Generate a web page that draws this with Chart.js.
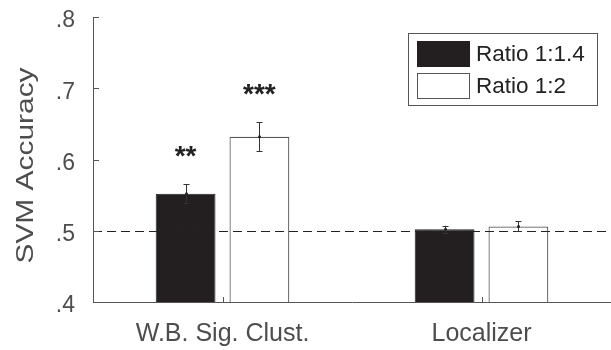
<!DOCTYPE html>
<html>
<head>
<meta charset="utf-8">
<script src="https://cdn.jsdelivr.net/npm/chart.js@4/dist/chart.umd.min.js"></script>
<style>
  html, body { margin: 0; padding: 0; background: #fff; }
  #chart { display: block; }
</style>
</head>
<body>
<canvas id="chart" width="611" height="350"></canvas>
<script>
// chart data
const categories = ['W.B. Sig. Clust.', 'Localizer'];
const seriesNames = ['Ratio 1:1.4', 'Ratio 1:2'];
const ratio14 = [0.552, 0.502];
const ratio14Err = [0.013, 0.005];
const ratio12 = [0.632, 0.506];
const ratio12Err = [0.020, 0.007];
const ratio14Stars = ['**', ''];
const ratio12Stars = ['***', ''];
const yTickValues = [0.4, 0.5, 0.6, 0.7, 0.8];
const yTickLabels = ['.4', '.5', '.6', '.7', '.8'];
const chanceLevel = 0.5;
const yTitle = 'SVM Accuracy';

const FONT = 'Arial, "Liberation Sans", Helvetica, sans-serif';
const AXIS_COLOR = '#555';
const TEXT_COLOR = '#4d4d4d';
const DARK = '#231f20';

const errors = [ratio14Err, ratio12Err];
const stars = [ratio14Stars, ratio12Stars];

// error bars, chance line, stars, inward ticks, legend, y title
const extras = {
    id: 'extras',
    afterDatasetsDraw(chart) {
        const ctx = chart.ctx;
        const area = chart.chartArea;
        const y = chart.scales.y;
        const x = chart.scales.x;

        // chance level dashed line
        const cy = Math.round(y.getPixelForValue(chanceLevel)) + 0.5;
        ctx.save();
        ctx.strokeStyle = '#222';
        ctx.lineWidth = 1;
        ctx.setLineDash([9, 5]);
        ctx.beginPath();
        ctx.moveTo(area.left, cy);
        ctx.lineTo(chart.width, cy);
        ctx.stroke();
        ctx.restore();

        // error bars + stars
        chart.data.datasets.forEach((ds, di) => {
            const meta = chart.getDatasetMeta(di);
            meta.data.forEach((bar, i) => {
                const v = ds.data[i];
                const e = errors[di][i];
                const bx = Math.round(bar.x) + 0.5;
                const top = y.getPixelForValue(v + e);
                const bot = y.getPixelForValue(v - e);
                ctx.save();
                ctx.strokeStyle = '#333';
                ctx.lineWidth = 1;
                ctx.beginPath();
                ctx.moveTo(bx, top);
                ctx.lineTo(bx, bot);
                ctx.moveTo(bx - 3, Math.round(top) + 0.5);
                ctx.lineTo(bx + 3, Math.round(top) + 0.5);
                ctx.moveTo(bx - 3, Math.round(bot) + 0.5);
                ctx.lineTo(bx + 3, Math.round(bot) + 0.5);
                ctx.stroke();
                ctx.fillStyle = '#222';
                ctx.beginPath();
                ctx.arc(bx, y.getPixelForValue(v), 1.5, 0, Math.PI * 2);
                ctx.fill();

                const s = stars[di][i];
                if (s) {
                    ctx.font = 'bold 28px ' + FONT;
                    ctx.textAlign = 'center';
                    ctx.textBaseline = 'alphabetic';
                    ctx.fillText(s, bar.x, top - 19);
                }
                ctx.restore();
            });
        });

        // inward tick marks
        ctx.save();
        ctx.strokeStyle = AXIS_COLOR;
        ctx.lineWidth = 1;
        ctx.beginPath();
        yTickValues.forEach(v => {
            const py = Math.round(y.getPixelForValue(v)) + 0.5;
            ctx.moveTo(area.left, py);
            ctx.lineTo(area.left + 6, py);
        });
        categories.forEach((c, i) => {
            const px = Math.round(x.getPixelForValue(i)) + 0.5;
            ctx.moveTo(px, area.bottom);
            ctx.lineTo(px, area.bottom - 5);
        });
        ctx.stroke();
        ctx.restore();

        // legend
        ctx.save();
        ctx.strokeStyle = AXIS_COLOR;
        ctx.lineWidth = 1;
        ctx.fillStyle = '#fff';
        ctx.fillRect(408.5, 33.5, 189, 72);
        ctx.strokeRect(408.5, 33.5, 189, 72);
        chart.data.datasets.forEach((ds, di) => {
            const ry = 41 + di * 32;
            ctx.fillStyle = ds.backgroundColor;
            ctx.fillRect(417.5, ry + 0.5, 52, 25);
            ctx.strokeStyle = di === 0 ? DARK : AXIS_COLOR;
            ctx.strokeRect(417.5, ry + 0.5, 52, 25);
            ctx.fillStyle = '#222';
            ctx.font = '22.5px ' + FONT;
            ctx.textAlign = 'left';
            ctx.textBaseline = 'middle';
            ctx.fillText(ds.label, 476, ry + 14);
        });
        ctx.restore();

        // y axis title, stretched along its length like the original
        ctx.save();
        ctx.translate(33, (area.top + area.bottom) / 2 + 6);
        ctx.rotate(-Math.PI / 2);
        ctx.scale(1.3, 1);
        ctx.font = '23px ' + FONT;
        ctx.fillStyle = TEXT_COLOR;
        ctx.textAlign = 'center';
        ctx.textBaseline = 'alphabetic';
        ctx.fillText(yTitle, 0, 0);
        ctx.restore();
    }
};

new Chart(document.getElementById('chart'), {
    type: 'bar',
    data: {
        labels: categories,
        datasets: [
            {
                label: seriesNames[0],
                data: ratio14,
                backgroundColor: DARK,
                borderColor: DARK,
                borderWidth: 1,
                base: 0.4
            },
            {
                label: seriesNames[1],
                data: ratio12,
                backgroundColor: '#fff',
                borderColor: '#555',
                borderWidth: 1.2,
                base: 0.4
            }
        ]
    },
    options: {
        responsive: false,
        animation: false,
        categoryPercentage: 0.57,
        barPercentage: 0.81,
        layout: { padding: { top: 17, right: 0, left: 0, bottom: 0 } },
        plugins: {
            legend: { display: false },
            tooltip: { enabled: false }
        },
        scales: {
            x: {
                grid: { display: false },
                border: { display: true, color: AXIS_COLOR },
                ticks: {
                    color: TEXT_COLOR,
                    font: { family: FONT, size: 25 },
                    padding: 9,
                    maxRotation: 0
                },
                afterFit(scale) { scale.height = 48; }
            },
            y: {
                min: 0.4,
                max: 0.8,
                grid: { display: false },
                border: { display: true, color: AXIS_COLOR },
                ticks: {
                    stepSize: 0.1,
                    color: TEXT_COLOR,
                    font: { family: FONT, size: 23 },
                    padding: 10,
                    labelOffset: 4,
                    callback: (v, i) => yTickLabels[i]
                },
                afterFit(scale) {
                    scale.width = 93;
                    scale.paddingTop = 0;
                    scale.paddingBottom = 0;
                }
            }
        }
    },
    plugins: [extras]
});
</script>
</body>
</html>
